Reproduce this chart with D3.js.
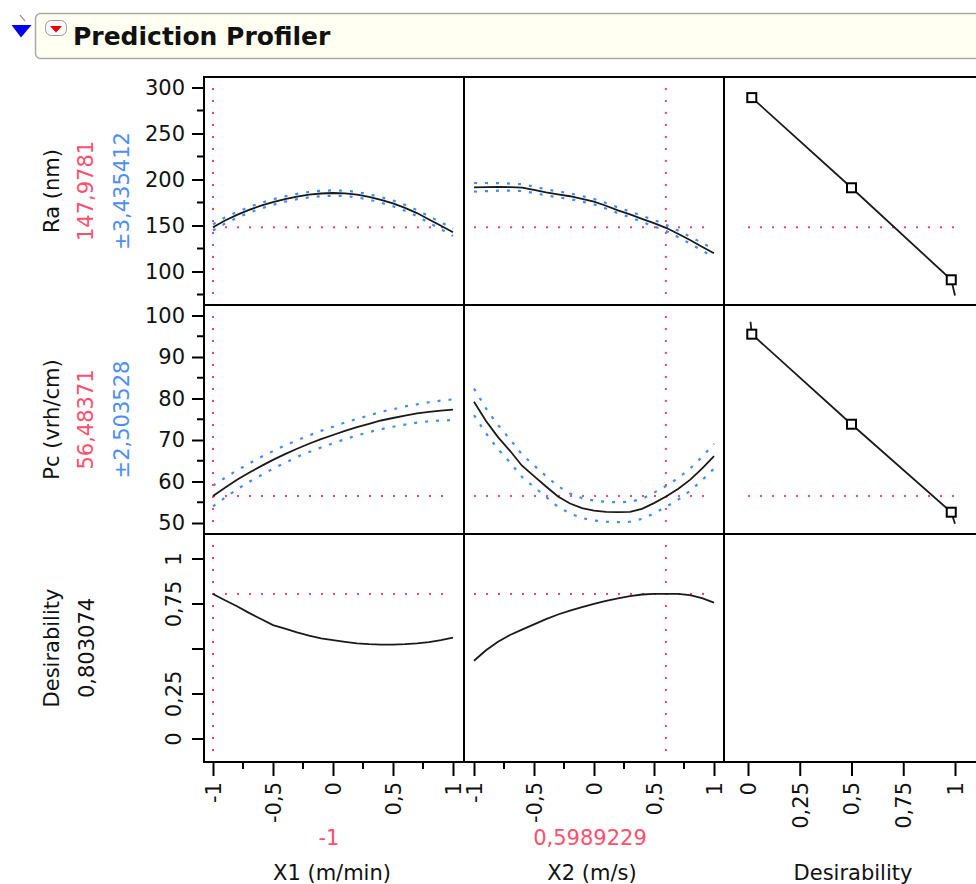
<!DOCTYPE html>
<html><head><meta charset="utf-8">
<script src="https://cdn.jsdelivr.net/npm/d3@7"></script>
<style>
body{margin:0;background:#fff;}
svg{display:block;font-family:"DejaVu Sans",sans-serif;}
</style>
</head><body><svg id="c" width="976" height="884"></svg>
<script>
// ---------- data ----------
const xGrid = [-1,-0.9,-0.8,-0.7,-0.6,-0.5,-0.4,-0.3,-0.2,-0.1,0,0.1,0.2,0.3,0.4,0.5,0.6,0.7,0.8,0.9,1];
const raX1   = [148,155.5,161.5,167,171.5,175.5,178.8,181.5,183.5,184.8,185.3,185,183.5,181,177.8,174,169.2,163.5,156.5,149.8,142.6];
const raX1Ci = [3.4,3.3,3.2,3.1,3.0,3.0,2.9,2.9,2.9,2.9,2.9,2.9,2.9,2.9,3.0,3.1,3.2,3.3,3.5,3.7,3.9];
const raX2   = [191.5,191.8,191.9,191.7,191.2,188.8,186,183.8,181.8,179,175.9,171.5,166.5,162,157.3,152.5,147.5,141,134.2,127,119.8];
const raX2Ci = [4.7,4.4,4.1,3.9,3.7,3.5,3.3,3.2,3.1,3.0,3.0,3.0,3.1,3.2,3.3,3.4,3.4,3.6,3.8,4.1,4.5];
const pcX1   = [56.5,58.5,60.4,62.1,63.7,65.2,66.6,67.9,69.1,70.2,71.2,72.2,73.1,73.9,74.7,75.3,75.9,76.4,76.8,77.1,77.3];
const pcX1Ci = [2.5,2.4,2.3,2.2,2.2,2.1,2.1,2.0,2.0,2.0,2.0,2.0,2.0,2.0,2.1,2.1,2.2,2.2,2.3,2.4,2.5];
const pcX2   = [79.2,74.6,70.7,67.4,63.8,61.3,58.8,56.4,54.7,53.6,53.0,52.7,52.6,52.7,53.4,54.8,56.4,58.2,60.4,63.1,66.1];
const pcX2Ci = [3.2,3.0,2.9,2.8,2.7,2.6,2.5,2.5,2.4,2.4,2.4,2.4,2.4,2.4,2.4,2.5,2.5,2.6,2.7,2.8,3.0];
const dX1    = [0.803,0.768,0.735,0.698,0.664,0.63,0.61,0.59,0.572,0.556,0.546,0.537,0.529,0.524,0.522,0.522,0.524,0.528,0.535,0.546,0.56];
const dX2    = [0.432,0.49,0.538,0.575,0.605,0.634,0.663,0.689,0.71,0.73,0.748,0.765,0.779,0.791,0.8,0.803,0.804,0.803,0.797,0.78,0.755];

// desirability function curves (x = desirability, y = response)
const desRaCurveD = [0.0183,0.5,0.9819,1.0];
const desRaCurveV = [289,191,91,74];
const desPcCurveD = [0.012,0.0183,0.5,0.9819,1.0];
const desPcCurveV = [98.5,95.5,73.8,52.6,49.8];
const desRaPtsD = [0.0183,0.5,0.9819];
const desRaPtsV = [289,191,91];
const desPcPtsD = [0.0183,0.5,0.9819];
const desPcPtsV = [95.5,73.8,52.6];

// current settings
const curX1 = -1, curX2 = 0.5989229;
const curRa = 147.9781, curPc = 56.48371, curD = 0.803074;
const labels = {
  ra: ["Ra (nm)","147,9781","±3,435412"],
  pc: ["Pc (vrh/cm)","56,48371","±2,503528"],
  d:  ["Desirability","0,803074"],
  x1: ["X1 (m/min)","-1"],
  x2: ["X2 (m/s)","0,5989229"],
  x3: ["Desirability"]
};
const raTicks = [100,150,200,250,300];
const raMinor = [75,125,175,225,275];
const pcTicks = [50,60,70,80,90,100];
const pcMinor = [55,65,75,85,95];
const dTicks = [0,0.25,0.5,0.75,1];
const dTickLabels = ["0","0,25","","0,75","1"];
const xTicks = [-1,-0.5,0,0.5,1];
const xTickLabels = ["-1","-0,5","0","0,5","1"];
const xMinor = [-0.75,-0.25,0.25,0.75];
const desXTicks = [0,0.25,0.5,0.75,1];
const desXTickLabels = ["0","0,25","0,5","0,75","1"];

// ---------- layout ----------
const RED = "#ff4466", RED_TXT = "#ff4f6e", BLUE = "#3f8cff", BLUE_TXT = "#4b8ff7";
const colX = [204,464,724,984];
const rowY = [77,305,534,762];
const FS = 21;

const svg = d3.select("#c");

// header
const hdr = svg.append("g");
hdr.append("rect").attr("x",35.5).attr("y",13.5).attr("width",980).attr("height",45).attr("rx",5)
  .attr("fill","#fffff2").attr("stroke","#aaaaaa").attr("stroke-width",1.5);
hdr.append("line").attr("x1",20).attr("y1",15).attr("x2",25).attr("y2",21).attr("stroke","#9a9a9a").attr("stroke-width",1.2);
hdr.append("path").attr("d","M11.5,25 L31.5,25 L21,37.5 Z").attr("fill","#0000f0");
hdr.append("rect").attr("x",45.5).attr("y",20.5).attr("width",21).attr("height",15).attr("rx",6)
  .attr("fill","#f8f8f8").attr("stroke","#999").attr("stroke-width",1);
hdr.append("path").attr("d","M50,26 L62,26 L56,32.5 Z").attr("fill","#ee0000");
hdr.append("text").attr("x",73).attr("y",45).attr("font-size",25).attr("font-weight","bold")
  .attr("fill","#111").text("Prediction Profiler");

// scales
const yRa = d3.scaleLinear().domain([63.6,311.4]).range([rowY[1],rowY[0]]);
const yPc = d3.scaleLinear().domain([47.35,102.53]).range([rowY[2],rowY[1]]);
const yD  = d3.scaleLinear().domain([-0.1306,1.1361]).range([rowY[3],rowY[2]]);
const xC1 = d3.scaleLinear().domain([-1,1]).range([213,453]);
const xC2 = d3.scaleLinear().domain([-1,1]).range([474,714]);
const xC3 = d3.scaleLinear().domain([0,1]).range([748,955]);

// y axes
function yAxis(scale, ticks, minor, fmt, rotated, labelsArr){
  const g = svg.append("g").attr("transform",`translate(${colX[0]},0)`);
  const ax = d3.axisLeft(scale).tickValues(ticks).tickSize(12).tickSizeOuter(0)
    .tickFormat((d,i)=> labelsArr ? labelsArr[i] : fmt(d));
  g.call(ax);
  g.select(".domain").remove();
  g.selectAll(".tick line").attr("stroke","#000").attr("stroke-width",2);
  g.selectAll(".tick text").attr("font-size",FS).attr("fill","#111").attr("font-family","DejaVu Sans");
  if(rotated){
    g.selectAll(".tick text").attr("x",0).attr("dy",null)
      .attr("text-anchor","middle").attr("transform","translate(-23,0) rotate(-90)")
      .attr("y",0);
  } else {
    g.selectAll(".tick text").attr("x",-19);
  }
  if(minor){
    g.selectAll(".mn").data(minor).enter().append("line")
      .attr("x1",-7).attr("x2",0).attr("y1",d=>scale(d)).attr("y2",d=>scale(d))
      .attr("stroke","#000").attr("stroke-width",2);
  }
}
yAxis(yRa, raTicks, raMinor, d=>String(d));
yAxis(yPc, pcTicks, pcMinor, d=>String(d));
yAxis(yD, dTicks, null, null, true, dTickLabels);

// x axes
function xAxis(scale, ticks, labelsArr, minor){
  const g = svg.append("g").attr("transform",`translate(0,${rowY[3]})`);
  g.call(d3.axisBottom(scale).tickValues(ticks).tickSize(14).tickSizeOuter(0).tickFormat((d,i)=>labelsArr[i]));
  g.select(".domain").remove();
  g.selectAll(".tick line").attr("stroke","#000").attr("stroke-width",2);
  g.selectAll(".tick text").attr("font-size",FS).attr("fill","#111").attr("font-family","DejaVu Sans")
    .attr("y",0).attr("dy","0.35em").attr("text-anchor","end")
    .attr("transform","translate(0,20) rotate(-90)").attr("x",0);
  if(minor){
    g.selectAll(".mn").data(minor).enter().append("line")
      .attr("y1",0).attr("y2",7).attr("x1",d=>scale(d)).attr("x2",d=>scale(d))
      .attr("stroke","#000").attr("stroke-width",2);
  }
}
xAxis(xC1, xTicks, xTickLabels, xMinor);
xAxis(xC2, xTicks, xTickLabels, xMinor);
xAxis(xC3, desXTicks, desXTickLabels, null);

// plot content (clipped to panels)
const defs = svg.append("defs");
const plot = svg.append("g");

function dotted(g, pts, color, dash, w){
  g.append("path").attr("d", d3.line()(pts)).attr("fill","none")
    .attr("stroke",color).attr("stroke-width",w||2).attr("stroke-dasharray",dash);
}
function panel(xs, ys, vals, ci, curX, curY, showV){
  const g = plot.append("g");
  if(ci){
    dotted(g, xGrid.map((x,i)=>[xs(x), ys(vals[i]+ci[i])]), BLUE, "3,8", 2.2);
    dotted(g, xGrid.map((x,i)=>[xs(x), ys(vals[i]-ci[i])]), BLUE, "3,8", 2.2);
  }
  // red reference lines
  dotted(g, [[xs(-1), ys(curY)],[xs(1), ys(curY)]], RED, "2,10", 2);
  if(showV){
    const r = ys.range();
    dotted(g, [[xs(curX), r[1]+11],[xs(curX), r[0]-10]], RED, "2,10", 2);
  }
  g.append("path").attr("d", d3.line()(xGrid.map((x,i)=>[xs(x), ys(vals[i])])))
    .attr("fill","none").attr("stroke","#1a1a1a").attr("stroke-width",1.8);
}
panel(xC1, yRa, raX1, raX1Ci, curX1, curRa, true);
panel(xC2, yRa, raX2, raX2Ci, curX2, curRa, true);
panel(xC1, yPc, pcX1, pcX1Ci, curX1, curPc, true);
panel(xC2, yPc, pcX2, pcX2Ci, curX2, curPc, true);
panel(xC1, yD, dX1, null, curX1, curD, true);
panel(xC2, yD, dX2, null, curX2, curD, true);

// desirability function panels
function desPanel(ys, cd, cv, pd, pv, curY){
  const g = plot.append("g");
  dotted(g, [[xC3(0), ys(curY)],[xC3(1), ys(curY)]], RED, "2,10", 2);
  g.append("path").attr("d", d3.line()(cd.map((d,i)=>[xC3(d), ys(cv[i])])))
    .attr("fill","none").attr("stroke","#1a1a1a").attr("stroke-width",1.8);
  g.selectAll(".sq").data(pd).enter().append("rect")
    .attr("x",(d)=>xC3(d)-4.5).attr("y",(d,i)=>ys(pv[i])-4.5)
    .attr("width",9).attr("height",9).attr("fill","#fff").attr("stroke","#000").attr("stroke-width",2);
}
desPanel(yRa, desRaCurveD, desRaCurveV, desRaPtsD, desRaPtsV, curRa);
desPanel(yPc, desPcCurveD, desPcCurveV, desPcPtsD, desPcPtsV, curPc);

// panel grid lines
const grid = svg.append("g").attr("stroke","#000").attr("stroke-width",2);
rowY.forEach(y=>grid.append("line").attr("x1",colX[0]-1).attr("x2",990).attr("y1",y).attr("y2",y));
colX.forEach(x=>grid.append("line").attr("x1",x).attr("x2",x).attr("y1",rowY[0]).attr("y2",rowY[3]));

// left titles (rotated)
function vText(x, y, txt, color){
  svg.append("text").attr("transform",`translate(${x},${y}) rotate(-90)`)
    .attr("text-anchor","middle").attr("dy","0.35em").attr("font-size",FS).attr("fill",color).text(txt);
}
const rc = i => (rowY[i]+rowY[i+1])/2;
vText(52, rc(0), labels.ra[0], "#111");
vText(86, rc(0), labels.ra[1], RED_TXT);
vText(122, rc(0), labels.ra[2], BLUE_TXT);
vText(52, rc(1), labels.pc[0], "#111");
vText(86, rc(1), labels.pc[1], RED_TXT);
vText(122, rc(1), labels.pc[2], BLUE_TXT);
vText(52, rc(2), labels.d[0], "#111");
vText(87, rc(2), labels.d[1], "#111");

// bottom titles
function hText(x, y, txt, color){
  svg.append("text").attr("x",x).attr("y",y).attr("text-anchor","middle")
    .attr("font-size",FS).attr("fill",color).text(txt);
}
hText(329, 845, labels.x1[1], RED_TXT);
hText(332, 880, labels.x1[0], "#111");
hText(590, 845, labels.x2[1], RED_TXT);
hText(592, 880, labels.x2[0], "#111");
hText(853, 880, labels.x3[0], "#111");
</script>
</body></html>
